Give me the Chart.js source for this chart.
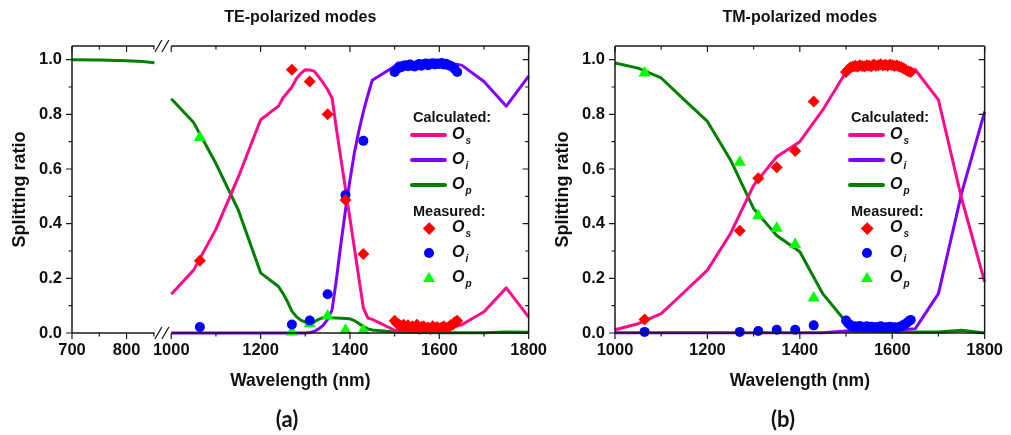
<!DOCTYPE html>
<html>
<head>
<meta charset="utf-8">
<script src="https://cdn.jsdelivr.net/npm/chart.js@4.4.0/dist/chart.umd.min.js"></script>
<style>
    body { margin: 0; background: #fff; width: 1011px; height: 435px; overflow: hidden; position: relative;
           font-family: 'Liberation Sans', Arial, sans-serif; color: #111; }
    canvas { position: absolute; top: 0; }
    #chartA { left: 0; }
    #chartB { left: 535px; }
    .tag { position: absolute; top: 418px; transform: translate(-50%, -50%); font: bold 22px Lato, 'Open Sans', sans-serif; }
    .lg { position: absolute; transform: translateY(-50%); font-weight: bold; white-space: nowrap; }
    .lg.head { font-size: 14.5px; line-height: 16px; }
    .lg.lab { font-size: 16px; line-height: 16px; font-style: italic; }
    .lg.lab span { position: relative; top: 5px; font-size: 10px; margin-left: 1px; }
    .sw { position: absolute; }
</style>
</head>
<body>
<canvas id="chartA" width="555" height="435"></canvas>
<canvas id="chartB" width="476" height="435"></canvas>
<div class="tag" style="left:287px">(a)</div>
<div class="tag" style="left:783px">(b)</div>
<script>
// measured wavelengths (nm), same for both polarizations
const measWl = [1064, 1270, 1310, 1350, 1390, 1430];
// dense measurement band (tunable laser sweep)
const bandWl = [1500, 1505, 1510, 1515, 1520, 1525, 1530, 1535, 1540, 1545, 1550, 1555, 1560, 1565, 1570,
                1575, 1580, 1585, 1590, 1595, 1600, 1605, 1610, 1615, 1620, 1625, 1630, 1635, 1640];

// ---- TE ----
const teMeasOs = [0.264, 0.963, 0.920, 0.800, 0.487, 0.289];
const teMeasOi = [0.022, 0.031, 0.046, 0.142, 0.505, 0.703];
const teMeasOp = [0.715, 0.004, 0.034, 0.062, 0.010, 0.010];
const teBandOs = [0.045, 0.035, 0.030, 0.025, 0.030, 0.020, 0.028, 0.018, 0.025, 0.020, 0.030, 0.015, 0.022, 0.025, 0.018,
                  0.020, 0.015, 0.025, 0.018, 0.022, 0.015, 0.020, 0.025, 0.018, 0.020, 0.028, 0.030, 0.040, 0.045];
const teBandOi = [0.955, 0.965, 0.975, 0.972, 0.978, 0.980, 0.976, 0.982, 0.978, 0.975, 0.980, 0.984, 0.978, 0.983, 0.986,
                  0.980, 0.985, 0.987, 0.982, 0.986, 0.984, 0.988, 0.982, 0.985, 0.980, 0.978, 0.972, 0.965, 0.955];

const teCalcWl = [1000, 1050, 1100, 1150, 1200, 1240, 1250, 1260, 1270, 1280, 1290, 1300, 1310, 1320, 1330, 1340, 1350,
                  1360, 1370, 1380, 1390, 1400, 1410, 1420, 1430, 1440, 1450, 1500, 1550, 1600, 1650, 1700, 1750, 1800];
const teCalcOs = [0.142, 0.230, 0.380, 0.570, 0.780, 0.830, 0.860, 0.880, 0.900, 0.930, 0.950, 0.963, 0.962, 0.958, 0.937, 0.915, 0.890,
                  0.860, 0.743, 0.635, 0.526, 0.418, 0.310, 0.200, 0.092, 0.055, 0.050, 0.010, 0.007, 0.007, 0.030, 0.078, 0.165, 0.058];
const teCalcOi = [0.000, 0.000, 0.000, 0.000, 0.000, 0.000, 0.000, 0.000, 0.000, 0.000, 0.000, 0.000, 0.002, 0.006, 0.015, 0.028, 0.050,
                  0.085, 0.200, 0.330, 0.450, 0.560, 0.660, 0.740, 0.810, 0.870, 0.925, 0.976, 0.987, 0.993, 0.980, 0.920, 0.830, 0.940];
const teCalcOp = [0.857, 0.770, 0.620, 0.450, 0.220, 0.170, 0.145, 0.115, 0.080, 0.060, 0.047, 0.040, 0.034, 0.040, 0.050, 0.056, 0.058,
                  0.056, 0.055, 0.054, 0.053, 0.052, 0.045, 0.035, 0.024, 0.015, 0.011, 0.004, 0.002, 0.001, 0.001, 0.001, 0.004, 0.003];
// short-wavelength segment before the axis break
const teLowWl = [700, 750, 800, 830, 851];
const teLowOp = [1.000, 0.999, 0.996, 0.993, 0.989];

// ---- TM ----
const tmMeasOs = [0.049, 0.374, 0.566, 0.606, 0.666, 0.847];
const tmMeasOi = [0.004, 0.004, 0.007, 0.012, 0.012, 0.028];
const tmMeasOp = [0.951, 0.625, 0.429, 0.383, 0.324, 0.128];
const tmBandOs = [0.955, 0.965, 0.972, 0.975, 0.978, 0.974, 0.980, 0.977, 0.975, 0.980, 0.978, 0.976, 0.982, 0.978, 0.980,
                  0.983, 0.979, 0.981, 0.978, 0.982, 0.980, 0.977, 0.979, 0.975, 0.972, 0.968, 0.962, 0.958, 0.955];
const tmBandOi = [0.046, 0.035, 0.028, 0.022, 0.025, 0.020, 0.026, 0.022, 0.018, 0.025, 0.020, 0.023, 0.018, 0.022, 0.020,
                  0.025, 0.018, 0.021, 0.020, 0.023, 0.019, 0.021, 0.018, 0.022, 0.025, 0.030, 0.035, 0.042, 0.048];

const tmCalcWl = [1000, 1050, 1100, 1150, 1200, 1250, 1300, 1350, 1400, 1450, 1500, 1550, 1600, 1650, 1700, 1750, 1800];
const tmCalcOs = [0.012, 0.034, 0.071, 0.150, 0.230, 0.364, 0.540, 0.645, 0.700, 0.817, 0.955, 0.975, 0.980, 0.963, 0.853, 0.493, 0.187];
const tmCalcOi = [0.001, 0.001, 0.001, 0.001, 0.001, 0.001, 0.001, 0.001, 0.001, 0.001, 0.007, 0.006, 0.008, 0.016, 0.144, 0.511, 0.810];
const tmCalcOp = [0.988, 0.969, 0.933, 0.853, 0.774, 0.633, 0.455, 0.357, 0.297, 0.143, 0.040, 0.008, 0.005, 0.004, 0.004, 0.010, 0.000];

const yTicks = [0, 0.2, 0.4, 0.6, 0.8, 1.0];

const C = { os: '#ff0a8c', oi: '#8000ff', op: '#008000', ms: '#ff0000', mi: '#0000ff', mp: '#00ff00', axis: '#1a1a1a' };
const FONT = "'Liberation Sans', Arial, sans-serif";

const pts = (xs, ys) => xs.map((x, i) => ({ x: x, y: ys[i] }));

function marker(label, data, style, r, color, xId) {
    return { label: label, data: data, xAxisID: xId, pointStyle: style, pointRadius: r, pointBackgroundColor: color,
             pointBorderWidth: 0, showLine: false, clip: false };
}
function curve(label, data, color, xId) {
    return { label: label, data: data, xAxisID: xId, borderColor: color, borderWidth: 3, pointRadius: 0,
             showLine: true, fill: false, tension: 0, borderJoinStyle: 'round', clip: false };
}

// frame, mirrored ticks and break marks (Origin look)
const framePlugin = {
    id: 'frame',
    afterDraw(chart, args, opts) {
        const ctx = chart.ctx, ca = chart.chartArea, y = chart.scales.y;
        ctx.save();
        ctx.strokeStyle = C.axis;
        ctx.lineWidth = 1.5;
        ctx.beginPath();
        ctx.moveTo(ca.left, ca.top); ctx.lineTo(ca.left, ca.bottom);
        ctx.moveTo(ca.right, ca.top); ctx.lineTo(ca.right, ca.bottom);
        opts.segs.forEach(s => {
            const sc = chart.scales[s.id];
            ctx.moveTo(sc.left, ca.top); ctx.lineTo(sc.right, ca.top);
            ctx.moveTo(sc.left, ca.bottom); ctx.lineTo(sc.right, ca.bottom);
        });
        ctx.stroke();

        ctx.lineWidth = 1.2;
        ctx.beginPath();
        for (let i = 0; i <= 10; i++) {
            const py = y.getPixelForValue(i / 10), len = i % 2 ? 3.5 : 6;
            ctx.moveTo(ca.left - len, py); ctx.lineTo(ca.left, py);
            ctx.moveTo(ca.right, py); ctx.lineTo(ca.right - len, py);
        }
        opts.segs.forEach(s => {
            const sc = chart.scales[s.id];
            let k = 0;
            for (let v = s.from; v <= s.to; v += s.step, k++) {
                const px = sc.getPixelForValue(v), len = k % 2 ? 3.5 : 6;
                ctx.moveTo(px, ca.bottom); ctx.lineTo(px, ca.bottom + len);
                ctx.moveTo(px, ca.top); ctx.lineTo(px, ca.top + len);
            }
        });
        ctx.stroke();

        if (opts.segs.length > 1) {
            const x0 = chart.scales[opts.segs[0].id].right, x1 = chart.scales[opts.segs[1].id].left;
            ctx.lineWidth = 1.3;
            ctx.beginPath();
            [ca.top, ca.bottom].forEach(yb => {
                [x0 + 4, x0 + 11].forEach(xc => {
                    ctx.moveTo(xc - 3.5, yb + 6); ctx.lineTo(xc + 3.5, yb - 6);
                });
            });
            ctx.stroke();
            ctx.fillStyle = '#fff';
        }
        ctx.restore();
    }
};

const tickFont = { family: FONT, size: 16.5, weight: 'bold' };
const fixW = w => s => { s.width = w; };
const fixH = h => s => { s.height = h; };

function yScale(width, titlePad) {
    return {
        axis: 'y', position: 'left', min: 0, max: 1.05,
        afterFit: fixW(width),
        afterBuildTicks: s => { s.ticks = yTicks.map(v => ({ value: v })); },
        grid: { display: false, drawTicks: false }, border: { display: false },
        ticks: { font: tickFont, color: '#111', padding: 10, callback: v => v.toFixed(1) },
        title: { display: true, text: 'Splitting ratio', color: '#111', padding: { top: titlePad, bottom: 0 },
                 font: { family: FONT, size: 18, weight: 'bold' } }
    };
}
function xTicks(step) {
    return { font: tickFont, color: '#111', padding: 8, stepSize: step, autoSkip: false, maxRotation: 0,
             includeBounds: false, callback: v => String(v) };
}
const xTitle = { display: true, text: 'Wavelength (nm)', color: '#111', padding: { top: 0, bottom: 7 },
                 font: { family: FONT, size: 17.5, weight: 'bold' } };
function chartTitle(text) {
    return { display: true, text: text, fullSize: false, color: '#111', padding: { top: 8, bottom: 18.8 },
             font: { family: FONT, size: 16, weight: 'bold' } };
}

const common = { responsive: false, animation: false, events: [] };

new Chart(document.getElementById('chartA'), {
    type: 'scatter',
    data: {
        datasets: [
            marker('Measured Os', pts(measWl, teMeasOs).concat(pts(bandWl, teBandOs)), 'rectRot', 6, C.ms, 'xb'),
            marker('Measured Oi', pts(measWl, teMeasOi).concat(pts(bandWl, teBandOi)), 'circle', 5, C.mi, 'xb'),
            marker('Measured Op', pts(measWl, teMeasOp), 'triangle', 7, C.mp, 'xb'),
            curve('Os', pts(teCalcWl, teCalcOs), C.os, 'xb'),
            curve('Oi', pts(teCalcWl, teCalcOi), C.oi, 'xb'),
            curve('Op', pts(teCalcWl, teCalcOp), C.op, 'xb'),
            curve('Op low', pts(teLowWl, teLowOp), C.op, 'xa')
        ]
    },
    options: Object.assign({}, common, {
        layout: { padding: { left: 0, right: 23, top: 0, bottom: 36 } },
        scales: {
            xa: { axis: 'x', type: 'linear', position: 'bottom', stack: 'brk', stackWeight: 83, min: 700, max: 851,
                  afterFit: fixH(30), grid: { display: false, drawTicks: false }, border: { display: false }, ticks: xTicks(100) },
            xg: { axis: 'x', type: 'linear', position: 'bottom', stack: 'brk', stackWeight: 17, min: 0, max: 1,
                  afterFit: fixH(30), grid: { display: false, drawTicks: false }, border: { display: false }, ticks: { display: false } },
            xb: { axis: 'x', type: 'linear', position: 'bottom', stack: 'brk', stackWeight: 360, min: 1000, max: 1800,
                  afterFit: fixH(30), grid: { display: false, drawTicks: false }, border: { display: false }, ticks: xTicks(200) },
            xt: { axis: 'x', type: 'linear', position: 'bottom', weight: 1, min: 0, max: 1,
                  afterFit: fixH(36), grid: { display: false, drawTicks: false }, border: { display: false },
                  ticks: { display: false }, title: xTitle },
            y: yScale(72, 9)
        },
        plugins: {
            legend: { display: false }, tooltip: { enabled: false },
            title: chartTitle('TE-polarized modes'),
            frame: { segs: [{ id: 'xa', from: 700, to: 850, step: 50 }, { id: 'xb', from: 1000, to: 1800, step: 100 }] }
        }
    }),
    plugins: [framePlugin]
});

new Chart(document.getElementById('chartB'), {
    type: 'scatter',
    data: {
        datasets: [
            marker('Measured Os', pts(measWl, tmMeasOs).concat(pts(bandWl, tmBandOs)), 'rectRot', 6, C.ms, 'x'),
            marker('Measured Oi', pts(measWl, tmMeasOi).concat(pts(bandWl, tmBandOi)), 'circle', 5, C.mi, 'x'),
            marker('Measured Op', pts(measWl, tmMeasOp), 'triangle', 7, C.mp, 'x'),
            curve('Os', pts(tmCalcWl, tmCalcOs), C.os, 'x'),
            curve('Oi', pts(tmCalcWl, tmCalcOi), C.oi, 'x'),
            curve('Op', pts(tmCalcWl, tmCalcOp), C.op, 'x')
        ]
    },
    options: Object.assign({}, common, {
        layout: { padding: { left: 0, right: 22, top: 0, bottom: 36 } },
        scales: {
            x: { type: 'linear', position: 'bottom', min: 1000, max: 1800, afterFit: fixH(66),
                 grid: { display: false, drawTicks: false }, border: { display: false }, ticks: xTicks(200), title: xTitle },
            y: yScale(80, 17)
        },
        plugins: {
            legend: { display: false }, tooltip: { enabled: false },
            title: chartTitle('TM-polarized modes'),
            frame: { segs: [{ id: 'x', from: 1000, to: 1800, step: 100 }] }
        }
    }),
    plugins: [framePlugin]
});

// HTML legend (headers + subscripted labels)
function addEl(cls, x, y, html, style) {
    const d = document.createElement('div');
    d.className = cls;
    d.style.left = x + 'px';
    d.style.top = y + 'px';
    if (html) d.innerHTML = html;
    if (style) Object.assign(d.style, style);
    document.body.appendChild(d);
    return d;
}
function buildLegend(dx) {
    const lab = s => 'O<span>' + s + '</span>';
    addEl('lg head', 413 + dx, 117, 'Calculated:');
    [['s', C.os, 135], ['i', C.oi, 160], ['p', C.op, 185]].forEach(r => {
        addEl('sw', 410 + dx, r[2] - 1.75, '', { width: '37px', height: '3.5px', background: r[1], borderRadius: '2px' });
        addEl('lg lab', 452 + dx, r[2], lab(r[0]));
    });
    addEl('lg head', 413 + dx, 211, 'Measured:');
    addEl('sw', 429 + dx - 4.25, 228 - 4.25, '', { width: '8.5px', height: '8.5px', background: C.ms, transform: 'rotate(45deg)' });
    addEl('sw', 429 + dx - 5, 253 - 5, '', { width: '10px', height: '10px', background: C.mi, borderRadius: '50%' });
    addEl('sw', 429 + dx - 6, 278 - 6.5, '', { width: 0, height: 0, borderLeft: '6px solid transparent',
          borderRight: '6px solid transparent', borderBottom: '10.5px solid ' + C.mp });
    [['s', 228], ['i', 253], ['p', 278]].forEach(r => addEl('lg lab', 452 + dx, r[1], lab(r[0])));
}
buildLegend(0);
buildLegend(438);
</script>
</body>
</html>
